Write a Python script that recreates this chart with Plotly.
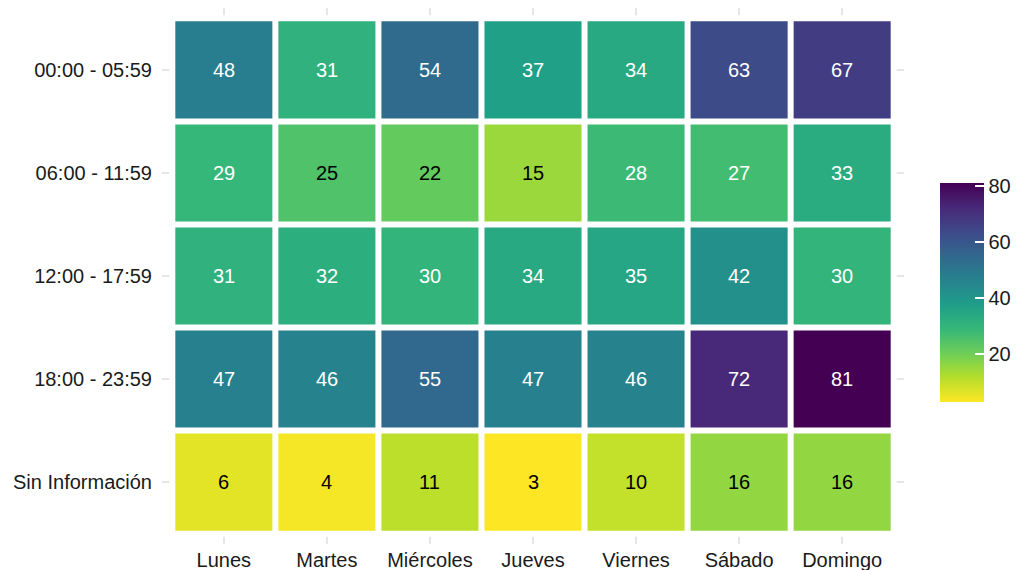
import plotly.graph_objects as go

dias = ["Lunes", "Martes", "Miércoles", "Jueves", "Viernes", "Sábado", "Domingo"]
franjas = ["00:00 - 05:59", "06:00 - 11:59", "12:00 - 17:59", "18:00 - 23:59", "Sin Información"]

v_0000 = [48, 31, 54, 37, 34, 63, 67]
v_0600 = [29, 25, 22, 15, 28, 27, 33]
v_1200 = [31, 32, 30, 34, 35, 42, 30]
v_1800 = [47, 46, 55, 47, 46, 72, 81]
v_sinf = [6, 4, 11, 3, 10, 16, 16]

z = [v_0000, v_0600, v_1200, v_1800, v_sinf]
zmin, zmax = 3, 81
colorbar_ticks = [20, 40, 60, 80]

FONT = "Liberation Sans, Arial, sans-serif"

fig = go.Figure()
fig.add_trace(go.Heatmap(
    z=z, x=dias, y=franjas,
    colorscale="Viridis", reversescale=True,
    zmin=zmin, zmax=zmax,
    hoverinfo="skip",
    colorbar=dict(
        thickness=44, thicknessmode="pixels",
        len=219, lenmode="pixels",
        x=1.0485, xanchor="left", xpad=0,
        y=0.469, yanchor="middle", ypad=0,
        outlinewidth=0,
        tickvals=colorbar_ticks,
        ticks="inside", ticklen=9, tickcolor="white", tickwidth=1.5,
        tickfont=dict(family=FONT, size=20, color="#1a1a1a"),
    ),
))

# value labels
for i, fr in enumerate(franjas):
    for j, d in enumerate(dias):
        val = z[i][j]
        fig.add_annotation(
            x=d, y=fr, text=str(val), showarrow=False,
            font=dict(family=FONT, size=20, color="black" if val < 26 else "white"),
        )

# white tile borders
shapes = []
nx, ny = len(dias), len(franjas)
for k in range(nx + 1):
    shapes.append(dict(type="line", xref="x", yref="y",
                       x0=k - 0.5, x1=k - 0.5, y0=-0.53, y1=ny - 0.47,
                       line=dict(color="white", width=6), layer="above"))
for k in range(ny + 1):
    shapes.append(dict(type="line", xref="x", yref="y",
                       x0=-0.53, x1=nx - 0.47, y0=k - 0.5, y1=k - 0.5,
                       line=dict(color="white", width=6), layer="above"))

fig.update_layout(
    width=1024, height=570,
    margin=dict(l=161.5, r=119.5, t=8, b=26, autoexpand=False),
    paper_bgcolor="white", plot_bgcolor="white",
    shapes=shapes,
    font=dict(family=FONT, size=20, color="#1a1a1a"),
    xaxis=dict(range=[-0.6, nx - 0.4], showgrid=True, gridcolor="#E6E6E6", gridwidth=2,
               zeroline=False, showline=False, ticks="", ticklabelstandoff=2, automargin=False,
               tickfont=dict(family=FONT, size=20, color="#1a1a1a")),
    yaxis=dict(range=[ny - 0.4, -0.6], showgrid=True, gridcolor="#E6E6E6", gridwidth=2,
               zeroline=False, showline=False, ticks="", ticklabelstandoff=9, automargin=False,
               tickfont=dict(family=FONT, size=20, color="#1a1a1a")),
)

fig.write_html("out.html", config={"displayModeBar": False},
               post_script="document.body.style.margin='0';document.body.style.overflow='hidden';")
